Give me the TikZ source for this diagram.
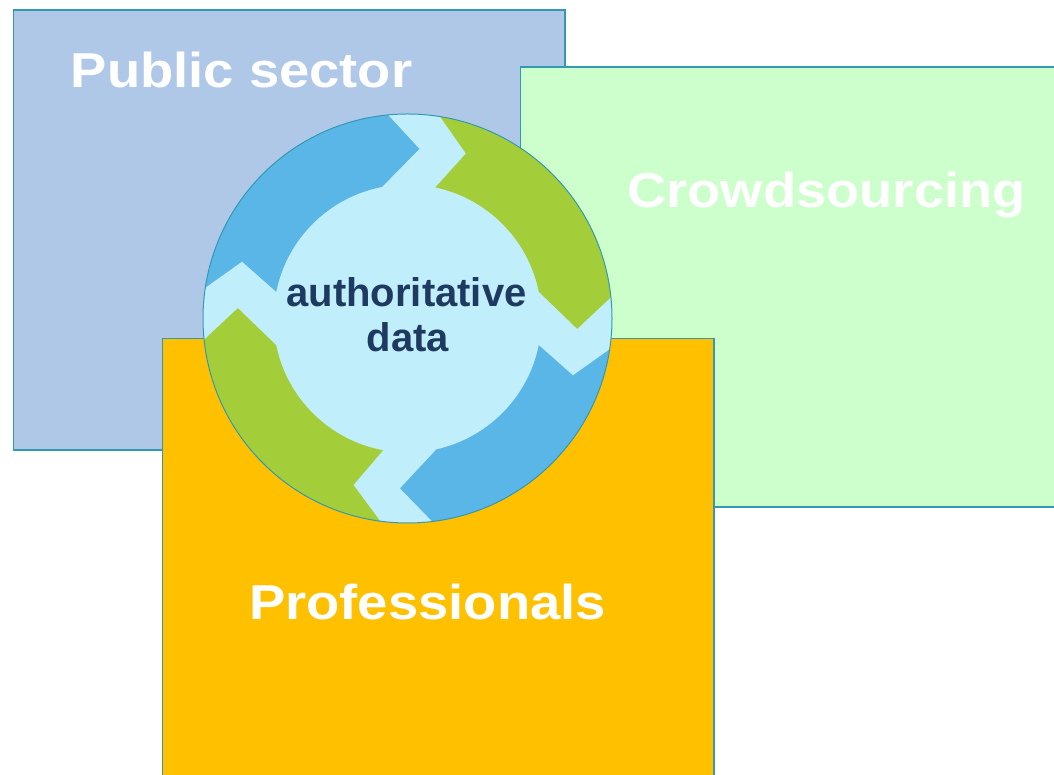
\documentclass[tikz,border=0pt]{standalone}
\usepackage{fontspec}
\setmainfont{Liberation Sans}
\usepackage{graphicx}
\definecolor{edge}{HTML}{3399B0}
\definecolor{pubfill}{HTML}{B0C8E8}
\definecolor{crowdfill}{HTML}{CCFFCC}
\definecolor{profill}{HTML}{FFC000}
\definecolor{lightcore}{HTML}{C0EEFA}
\definecolor{arrblue}{HTML}{5AB6E6}
\definecolor{arrgreen}{HTML}{A3CE3A}
\definecolor{navy}{HTML}{1F3A60}
\newcommand\ringarrow[3]{%
  \fill[#1] ({#2-8.5}:207) arc[start angle={#2-8.5}, end angle={#3+6}, radius=207]
    -- ({#3-4}:170) -- ({#3+11}:134)
    arc[start angle={#3+11}, end angle={#2-12}, radius=134]
    -- ({#2-19.5}:175) -- cycle;}
\begin{document}
\begin{tikzpicture}[x=1pt,y=1pt,
  sector/.style={draw=edge, line width=1.5pt},
  biglabel/.style={text=white, font=\bfseries\fontsize{49}{55}\selectfont, anchor=base, inner sep=0pt},
  corelabel/.style={text=navy, font=\bfseries\fontsize{40}{45}\selectfont, anchor=base, inner sep=0pt}]
\useasboundingbox (0,0) rectangle (1054,775);
\clip (0,0) rectangle (1054,775);
% sectors
\path[sector, fill=pubfill] (13.5,325) rectangle (565,765);
\path[sector, fill=crowdfill] (520.5,268) rectangle (1070,708);
\path[sector, fill=profill] (162.5,-20) rectangle (714,436.5);
% cycle disc
\begin{scope}[shift={(407.5,456.5)}]
  \fill[lightcore] (0,0) circle (204.5);
  \begin{scope}
    \clip (0,0) circle (204.5);
    \ringarrow{arrgreen}{90}{0.5}
    \ringarrow{arrblue}{0.5}{-88.5}
    \ringarrow{arrgreen}{-88.5}{-179.5}
    \ringarrow{arrblue}{180.5}{90}
  \end{scope}
  \draw[edge, line width=1pt] (0,0) circle (204.5);
\end{scope}
% labels
\node[biglabel] (pub) at (241.5,687) {\scalebox{1.11}[1]{Public sector}};
\node[biglabel] (crowd) at (826.5,567) {\scalebox{1.11}[1]{Crowdsourcing}};
\node[biglabel] (prof) at (427.5,155) {\scalebox{1.11}[1]{Professionals}};
\node[corelabel] (core1) at (406.5,468.3) {authoritative};
\node[corelabel] (core2) at (408,423.3) {data};
\end{tikzpicture}
\end{document}
